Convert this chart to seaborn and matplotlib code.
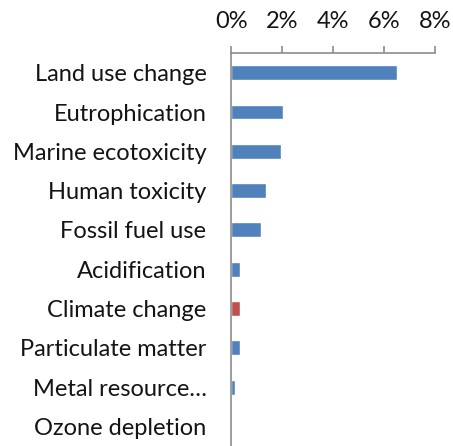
import matplotlib
matplotlib.use("Agg")
import matplotlib.pyplot as plt
import seaborn as sns
import pandas as pd
from matplotlib.ticker import PercentFormatter, FixedLocator

categories = [
    "Land use change",
    "Eutrophication",
    "Marine ecotoxicity",
    "Human toxicity",
    "Fossil fuel use",
    "Acidification",
    "Climate change",
    "Particulate matter",
    "Metal resource\u2026",
    "Ozone depletion",
]
shares = [6.5, 2.03, 1.93, 1.36, 1.18, 0.34, 0.34, 0.34, 0.12, 0.0]
highlight = "Climate change"
xticks = [0, 2, 4, 6, 8]

blue = "#4F81BD"
red = "#C0504D"
palette = {c: (red if c == highlight else blue) for c in categories}

df = pd.DataFrame({"category": categories, "share": shares})

sns.set_theme(style="white")
plt.rcParams["font.family"] = ["Lato", "DejaVu Sans"]

fig = plt.figure(figsize=(4.53, 4.46), dpi=100)
ax = fig.add_axes([0.511, 0.0, 0.449, 0.881])

sns.barplot(data=df, x="share", y="category", hue="category", palette=palette,
            legend=False, width=0.38, orient="h", ax=ax, saturation=1)

ax.set_xlim(0, 8)
ax.set_ylim(len(categories) - 0.5, -0.5)
ax.xaxis.tick_top()
ax.set_xticks(xticks)
ax.xaxis.set_major_formatter(PercentFormatter(xmax=100, decimals=0))
ax.set_xlabel("")
ax.set_ylabel("")

spine_col = "#8C8C8C"
text_col = "#141414"
for side in ("right", "bottom"):
    ax.spines[side].set_visible(False)
for side in ("top", "left"):
    ax.spines[side].set_color(spine_col)
    ax.spines[side].set_linewidth(1.2)

ax.tick_params(axis="x", which="major", direction="out", length=5, width=1.2,
               color=spine_col, labelsize=17, labelcolor=text_col, pad=10)
ax.tick_params(axis="y", which="major", length=0, labelsize=17,
               labelcolor=text_col, pad=18)
ax.yaxis.set_minor_locator(FixedLocator([i - 0.5 for i in range(len(categories) + 1)]))
ax.tick_params(axis="y", which="minor", direction="out", length=5, width=1.2,
               color=spine_col)

fig.savefig("out.png", dpi=100)
